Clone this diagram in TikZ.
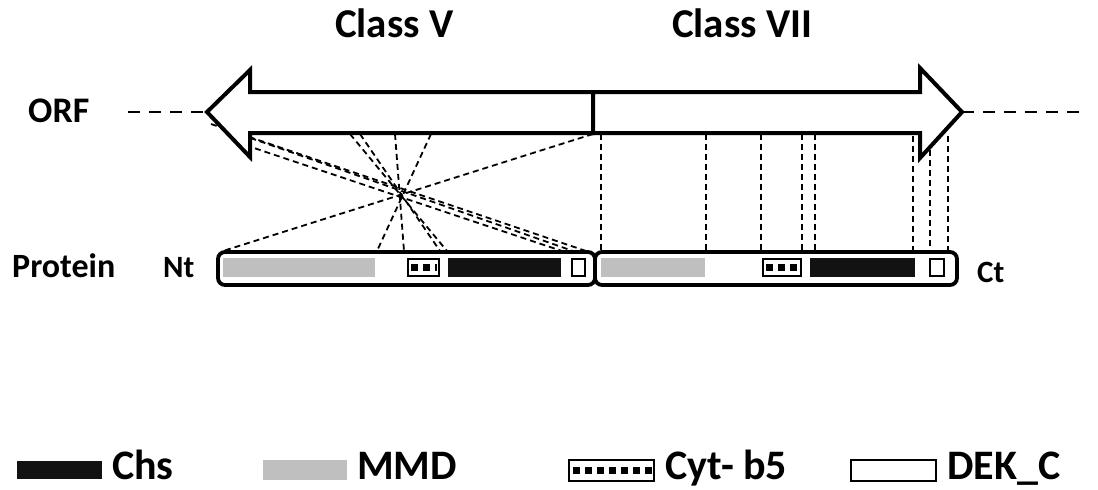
\documentclass[tikz,border=0pt]{standalone}
\usepackage{fontspec}
\setmainfont{Carlito}
\begin{document}
\begin{tikzpicture}[x=1pt,y=-1pt,
  lbl/.style={font=\bfseries\fontsize{#1}{#1}\selectfont, inner sep=0pt, anchor=base west},
  orfline/.style={line width=4pt, line join=miter, draw=black, fill=white},
  guide/.style={draw=black, line width=1.8pt, dash pattern=on 6pt off 4pt},
  barframe/.style={draw=black, line width=3.8pt, rounded corners=7pt, fill=white},
  mmd/.style={fill=black!25, draw=none},
  chs/.style={fill=black!93, draw=none},
  dekbox/.style={draw=black, line width=2.6pt, fill=white},
  cytbox/.style={draw=black, line width=2.6pt, fill=white},
  cytdots/.style={draw=black, line width=7pt, dash pattern=on 7pt off 5pt}]
\useasboundingbox (0,0) rectangle (1098,490);

% titles
\node[lbl=41] (cv) at (335,37) {Class V};
\node[lbl=41] (cvii) at (672,37) {Class VII};

% row labels
\node[lbl=36] (orf) at (28,122) {ORF};
\node[lbl=34] (prot) at (12,277) {Protein};
\node[lbl=31] (nt) at (163,277) {Nt};
\node[lbl=31] (ct) at (977,282) {Ct};

% ORF flanking dashes
\coordinate (dl1) at (128,112);
\coordinate (tipL) at (207,112);
\coordinate (tipR) at (962,112);
\coordinate (dr2) at (1080,112);
\draw[line width=2pt, dash pattern=on 12pt off 9pt] (dl1) -- (tipL);
\draw[line width=2pt, dash pattern=on 12pt off 9pt] (tipR) -- (dr2);

% protein bars
\draw[barframe] (218,252) rectangle (595,285);
\draw[barframe] (595,252) rectangle (957,285);
% left domains
\fill[mmd] (223,258) rectangle (375,277);
\fill[chs] (448,258) rectangle (561,277);
\draw[cytbox] (408,259) rectangle (439,276);
\draw[cytdots] (411,267.5) -- (437,267.5);
\draw[dekbox] (572,259) rectangle (585,276);
% right domains
\fill[mmd] (601,258) rectangle (705,277);
\fill[chs] (810,258) rectangle (915,277);
\draw[cytbox] (763,259) rectangle (801,276);
\draw[cytdots] (766,267.5) -- (800,267.5);
\draw[dekbox] (930,259) rectangle (944,276);

% guide lines, class V (reversed)
\foreach \ox/\oy/\px [count=\i] in {593/134/223, 431/134/377, 395/134/404, 360/134/440, 350/134/447, 236/142/562, 222/128/573, 211/124/586}{
  \coordinate (ov\i) at (\ox,\oy);
  \coordinate (pv\i) at (\px,251);
  \draw[guide] (ov\i) -- (pv\i);
}
% guide lines, class VII
\foreach \ox/\oy [count=\i] in {601/134, 706/134, 761/134, 802/134, 815/134, 913/136, 930/150, 948/136}{
  \coordinate (o\i) at (\ox,\oy);
  \coordinate (p\i) at (\ox,251);
  \draw[guide] (o\i) -- (p\i);
}

% ORF arrows
\draw[orfline] (tipL) -- (250,70) -- (250,92) -- (593,92) -- (593,133) -- (250,133) -- (250,157) -- cycle;
\draw[orfline] (tipR) -- (920,68) -- (920,92) -- (593,92) -- (593,133) -- (920,133) -- (920,158) -- cycle;
\draw[line width=4.5pt] (593,90) -- (593,135);

% legend
\fill[chs] (17,461) rectangle (102,479);
\node[lbl=42] (lchs) at (112,479) {Chs};
\fill[mmd] (263,460) rectangle (347,480);
\node[lbl=42] (lmmd) at (357,479) {MMD};
\draw[cytbox] (569,460) rectangle (654,481);
\draw[cytdots] (573,470.5) -- (652,470.5);
\node[lbl=42] (lcyt) at (665,479) {Cyt- b5};
\draw[dekbox] (851,460) rectangle (936,481);
\node[lbl=42] (ldek) at (947,479) {DEK\_C};
\end{tikzpicture}
\end{document}
